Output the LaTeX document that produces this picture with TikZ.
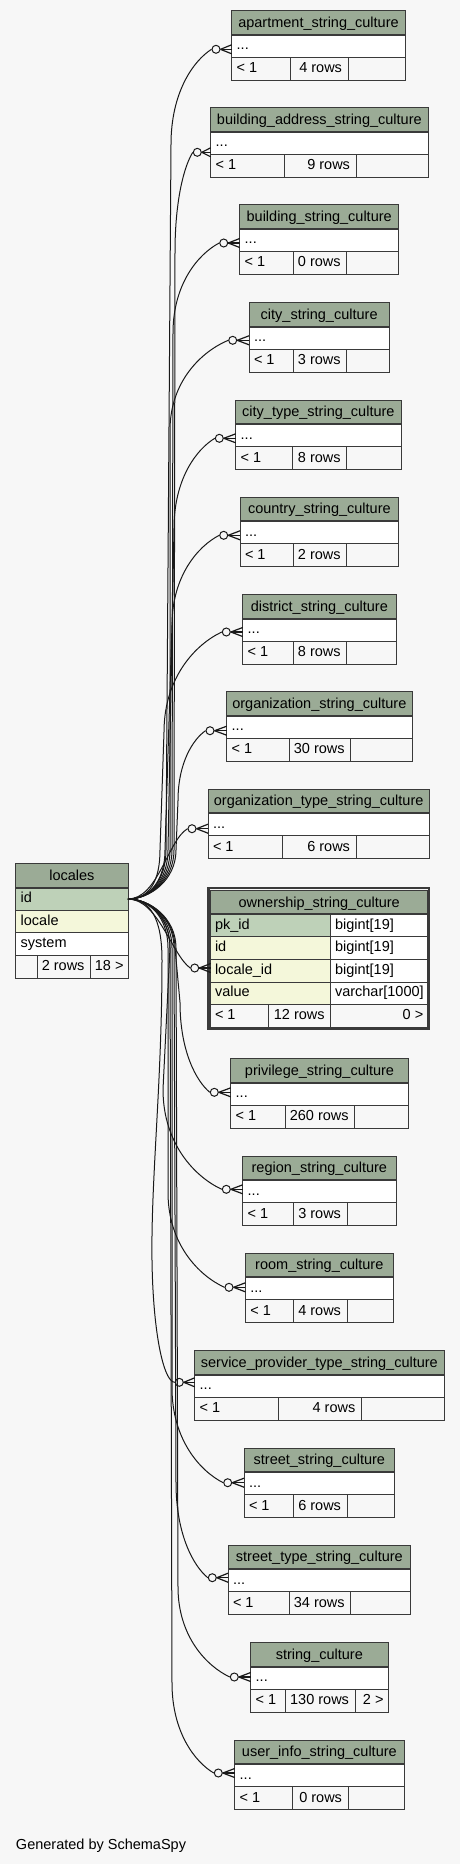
\documentclass[tikz,border=0pt]{standalone}
\usepackage{fontspec}
\setmainfont{Liberation Sans}
\usetikzlibrary{calc}
\definecolor{bgc}{HTML}{F7F7F7}
\definecolor{hdrc}{HTML}{9BAB96}
\definecolor{pkc}{HTML}{BED1B8}
\definecolor{idxc}{HTML}{F4F7DA}
\definecolor{bordc}{HTML}{3A3A3A}
\tikzset{
  cellbase/.style={draw=bordc, line width=1pt, inner sep=0pt, outer sep=0pt, rectangle},
  hdrcell/.style={cellbase, fill=hdrc},
  rowcell/.style={cellbase, fill=white},
  pkcell/.style={cellbase, fill=pkc},
  idxcell/.style={cellbase, fill=idxc},
  footcell/.style={cellbase, fill=bgc},
  txt/.style={inner sep=0pt, outer sep=0pt, font=\fontsize{14.5}{17}\selectfont, text=black},
  fk/.style={draw=black!90, line width=1pt},
  crow/.style={draw=black!90, line width=1.2pt},
  crowc/.style={circle, draw=black!90, line width=1pt, fill=bgc, minimum size=8pt, inner sep=0pt},
}
% #1 name #2 xl #3 xr #4 ytop #5 title #6 split1 #7 split2 #8 rows #9 extra
\newcommand\mktable[9]{%
  \pgfmathsetmacro\tA{#4+24}%
  \pgfmathsetmacro\tB{#4+46.5}%
  \pgfmathsetmacro\tM{(#2+#3)/2}%
  \pgfmathsetmacro\tW{#3-#2}%
  \pgfmathsetmacro\fA{#6-#2}%
  \pgfmathsetmacro\fB{#7-#6}%
  \pgfmathsetmacro\fC{#3-#7}%
  \node[hdrcell, minimum width=\tW pt, minimum height=24pt, anchor=north west] (#1-h) at (#2,#4) {};
  \node[rowcell, minimum width=\tW pt, minimum height=22.5pt, anchor=north west] (#1-r) at (#2,\tA) {};
  \node[footcell, minimum width=\fA pt, minimum height=23pt, anchor=north west] (#1-f1) at (#2,\tB) {};
  \node[footcell, minimum width=\fB pt, minimum height=23pt, anchor=north west] (#1-f2) at (#6,\tB) {};
  \node[footcell, minimum width=\fC pt, minimum height=23pt, anchor=north west] (#1-f3) at (#7,\tB) {};
  \draw[draw=bordc, line width=1.8pt] (#1-h.south west) -- (#1-h.south east);
  \node[txt, anchor=base] (#1-t) at (\tM,{#4+16.5}) {#5};
  \node[txt, anchor=base west] at ({#2+5},{\tA+15}) {...};
  \node[txt, anchor=base west] at ({#2+5},{\tB+15.5}) {< 1};
  \node[txt, anchor=base east] at ({#7-6},{\tB+15.5}) {#8};
  \node[txt, anchor=base east] at ({#3-4.5},{\tB+15.5}) {#9};
}
% crow's foot from circle to row
\newcommand\crowfoot[2]{%
  \draw[crow] (#1.east) -- ($(#1.east -| #2.west)+(0,4.5)$);
  \draw[crow] (#1.east) -- (#1.east -| #2.west);
  \draw[crow] (#1.east) -- ($(#1.east -| #2.west)+(0,-4.5)$);
}
% #1 name #2 sxb #3 sxt #4 L #5 cx #6 cy
\newcommand\upedge[6]{%
  \pgfmathsetmacro\eA{#6+#4}%
  \pgfmathsetmacro\eB{#6+0.45*#4}%
  \pgfmathsetmacro\eX{#5-4-0.45*(#5-4-#3)}%
  \pgfmathsetmacro\eY{#6+0.12*#4}%
  \draw[fk] (loc-id.east) .. controls (150,899) and (#2,880) .. (#2,850) -- (#3,\eA) .. controls (#3,\eB) and (\eX,\eY) .. (#1-c.west);
}
\newcommand\downedge[6]{%
  \pgfmathsetmacro\eA{#6-#4}%
  \pgfmathsetmacro\eB{#6-0.45*#4}%
  \pgfmathsetmacro\eX{#5-4-0.45*(#5-4-#3)}%
  \pgfmathsetmacro\eY{#6-0.12*#4}%
  \draw[fk] (loc-id.east) .. controls (150,899) and (#2,918) .. (#2,948) -- (#3,\eA) .. controls (#3,\eB) and (\eX,\eY) .. (#1-c.west);
}
\begin{document}
\begin{tikzpicture}[x=1pt,y=-1pt]
\fill[bgc] (0,0) rectangle (460,1864);
\useasboundingbox (0,0) rectangle (460,1864);

% ---------- tables ----------
\mktable{apt}{231.7}{405.3}{10.7}{apartment\_string\_culture}{290.7}{348}{4 rows}{}
\mktable{bas}{210.7}{428}{107.7}{building\_address\_string\_culture}{284}{356}{9 rows}{}
\mktable{bld}{239.7}{398.7}{204.7}{building\_string\_culture}{293}{346.7}{0 rows}{}
\mktable{city}{249}{389.3}{302.7}{city\_string\_culture}{293.3}{346.7}{3 rows}{}
\mktable{cityt}{235.7}{401}{400}{city\_type\_string\_culture}{292}{346.7}{8 rows}{}
\mktable{ctry}{240}{398.7}{497}{country\_string\_culture}{293.3}{346.7}{2 rows}{}
\mktable{dist}{242.7}{396}{594.7}{district\_string\_culture}{293.3}{346.7}{8 rows}{}
\mktable{org}{226.7}{412}{691.7}{organization\_string\_culture}{289.3}{350.7}{30 rows}{}
\mktable{orgt}{208}{429.3}{789}{organization\_type\_string\_culture}{282.7}{356}{6 rows}{}
\mktable{priv}{230.7}{408.3}{1058.7}{privilege\_string\_culture}{285.3}{354.7}{260 rows}{}
\mktable{reg}{242.7}{396}{1156}{region\_string\_culture}{293.3}{347}{3 rows}{}
\mktable{room}{245.3}{393.3}{1253}{room\_string\_culture}{293.3}{347}{4 rows}{}
\mktable{spt}{194.7}{444}{1350.7}{service\_provider\_type\_string\_culture}{278.7}{361.3}{4 rows}{}
\mktable{st}{244}{394.7}{1448}{street\_string\_culture}{293.3}{347}{6 rows}{}
\mktable{stt}{228}{410.7}{1545}{street\_type\_string\_culture}{289.3}{350.7}{34 rows}{}
\mktable{sc}{250.7}{388}{1642.7}{string\_culture}{285.3}{355}{130 rows}{2 >}
\mktable{ui}{234.7}{404}{1740}{user\_info\_string\_culture}{292}{348}{0 rows}{}

% ---------- locales ----------
\node[hdrcell, minimum width=112.3pt, minimum height=24pt, anchor=north west] (loc-h) at (15.7,863.7) {};
\node[pkcell, minimum width=112.3pt, minimum height=22.6pt, anchor=north west] (loc-id) at (15.7,887.7) {};
\node[idxcell, minimum width=112.3pt, minimum height=22pt, anchor=north west] (loc-lc) at (15.7,910.3) {};
\node[rowcell, minimum width=112.3pt, minimum height=23.4pt, anchor=north west] (loc-sy) at (15.7,932.3) {};
\node[footcell, minimum width=21.3pt, minimum height=22.6pt, anchor=north west] (loc-f1) at (15.7,955.7) {};
\node[footcell, minimum width=53.7pt, minimum height=22.6pt, anchor=north west] (loc-f2) at (37,955.7) {};
\node[footcell, minimum width=37.3pt, minimum height=22.6pt, anchor=north west] (loc-f3) at (90.7,955.7) {};
\draw[draw=bordc, line width=1.8pt] (loc-h.south west) -- (loc-h.south east);
\node[txt, anchor=base] at (71.85,880.2) {locales};
\node[txt, anchor=base west] at (20.7,902.6) {id};
\node[txt, anchor=base west] at (20.7,925) {locale};
\node[txt, anchor=base west] at (20.7,947.6) {system};
\node[txt, anchor=base east] at (84.5,970.5) {2 rows};
\node[txt, anchor=base east] at (123.5,970.5) {18 >};

% ---------- ownership_string_culture ----------
\draw[draw=bordc, line width=2.4pt] (208.5,888.2) rectangle (428.8,1029.1);
\node[hdrcell, minimum width=217pt, minimum height=23.3pt, anchor=north west] (own-h) at (210.7,890.7) {};
\node[pkcell, minimum width=120pt, minimum height=22.7pt, anchor=north west] (own-pk) at (210.7,914) {};
\node[rowcell, minimum width=97pt, minimum height=22.7pt, anchor=north west] (own-pkt) at (330.7,914) {};
\node[idxcell, minimum width=120pt, minimum height=22.6pt, anchor=north west] (own-id) at (210.7,936.7) {};
\node[rowcell, minimum width=97pt, minimum height=22.6pt, anchor=north west] (own-idt) at (330.7,936.7) {};
\node[idxcell, minimum width=120pt, minimum height=23pt, anchor=north west] (own-r) at (210.7,959.3) {};
\node[rowcell, minimum width=97pt, minimum height=23pt, anchor=north west] (own-rt) at (330.7,959.3) {};
\node[idxcell, minimum width=120pt, minimum height=22pt, anchor=north west] (own-v) at (210.7,982.3) {};
\node[rowcell, minimum width=97pt, minimum height=22pt, anchor=north west] (own-vt) at (330.7,982.3) {};
\node[footcell, minimum width=58pt, minimum height=23pt, anchor=north west] (own-f1) at (210.7,1004.3) {};
\node[footcell, minimum width=62pt, minimum height=23pt, anchor=north west] (own-f2) at (268.7,1004.3) {};
\node[footcell, minimum width=97pt, minimum height=23pt, anchor=north west] (own-f3) at (330.7,1004.3) {};
\draw[draw=bordc, line width=1.8pt] (own-h.south west) -- (own-h.south east);
\node[txt, anchor=base] at (319.2,907) {ownership\_string\_culture};
\node[txt, anchor=base west] at (215,929.2) {pk\_id};
\node[txt, anchor=base west] at (335,929.2) {bigint[19]};
\node[txt, anchor=base west] at (215,951.8) {id};
\node[txt, anchor=base west] at (335,951.8) {bigint[19]};
\node[txt, anchor=base west] at (215,974.3) {locale\_id};
\node[txt, anchor=base west] at (335,974.3) {bigint[19]};
\node[txt, anchor=base west] at (215,996.6) {value};
\node[txt, anchor=base west] at (335,996.6) {varchar[1000]};
\node[txt, anchor=base west] at (215,1019.5) {< 1};
\node[txt, anchor=base east] at (324.7,1019.5) {12 rows};
\node[txt, anchor=base east] at (423.3,1019.5) {0 >};

% ---------- circles ----------
\node[crowc] (apt-c) at (216,49.3) {};
\node[crowc] (bas-c) at (197.3,152.3) {};
\node[crowc] (bld-c) at (223.7,243) {};
\node[crowc] (city-c) at (232.7,340.3) {};
\node[crowc] (cityt-c) at (219.3,438.3) {};
\node[crowc] (ctry-c) at (223.7,535.3) {};
\node[crowc] (dist-c) at (226.3,632) {};
\node[crowc] (org-c) at (210,730.7) {};
\node[crowc] (orgt-c) at (192,828.7) {};
\node[crowc] (own-c) at (194.7,968) {};
\node[crowc] (priv-c) at (214.3,1092.3) {};
\node[crowc] (reg-c) at (226.3,1189.3) {};
\node[crowc] (room-c) at (229,1287.3) {};
\node[crowc] (spt-c) at (179.3,1382.3) {};
\node[crowc] (st-c) at (227.7,1482.7) {};
\node[crowc] (stt-c) at (212.3,1577.7) {};
\node[crowc] (sc-c) at (234.3,1677) {};
\node[crowc] (ui-c) at (218.3,1773) {};

% ---------- connectors ----------
\upedge{apt}{166}{171}{95}{216}{49.3}
\upedge{bas}{174}{175}{100}{197.3}{152.3}
\upedge{bld}{172}{173}{90}{223.7}{243}
\upedge{city}{170}{170}{90}{232.7}{340.3}
\upedge{cityt}{168}{174}{90}{219.3}{438.3}
\upedge{ctry}{165}{172}{90}{223.7}{535.3}
\upedge{dist}{160}{164}{100}{226.3}{632}
\upedge{org}{176}{178}{70}{210}{730.7}
\draw[fk] (loc-id.east) .. controls (158,899) and (168,840) .. (orgt-c.west);
\draw[fk] (loc-id.east) .. controls (158,899) and (172,955) .. (own-c.west);
\downedge{priv}{175}{180}{90}{214.3}{1092.3}
\downedge{reg}{170}{163}{100}{226.3}{1189.3}
\downedge{room}{168}{168}{95}{229}{1287.3}
\draw[fk] (loc-id.east) .. controls (150,899) and (162,918) .. (162,960) .. controls (162,1100) and (148,1200) .. (153,1290) .. controls (156,1345) and (165,1382) .. (spt-c.west);
\downedge{st}{172}{172}{95}{227.7}{1482.7}
\downedge{stt}{174}{176}{95}{212.3}{1577.7}
\downedge{sc}{176}{178}{90}{234.3}{1677}
\downedge{ui}{170}{172}{90}{218.3}{1773}

% ---------- crow's feet ----------
\crowfoot{apt-c}{apt-r}
\crowfoot{bas-c}{bas-r}
\crowfoot{bld-c}{bld-r}
\crowfoot{city-c}{city-r}
\crowfoot{cityt-c}{cityt-r}
\crowfoot{ctry-c}{ctry-r}
\crowfoot{dist-c}{dist-r}
\crowfoot{org-c}{org-r}
\crowfoot{orgt-c}{orgt-r}
\crowfoot{own-c}{own-r}
\crowfoot{priv-c}{priv-r}
\crowfoot{reg-c}{reg-r}
\crowfoot{room-c}{room-r}
\crowfoot{spt-c}{spt-r}
\crowfoot{st-c}{st-r}
\crowfoot{stt-c}{stt-r}
\crowfoot{sc-c}{sc-r}
\crowfoot{ui-c}{ui-r}

\node[txt, anchor=base west] (gen) at (16,1849.3) {Generated by SchemaSpy};
\end{tikzpicture}
\end{document}
